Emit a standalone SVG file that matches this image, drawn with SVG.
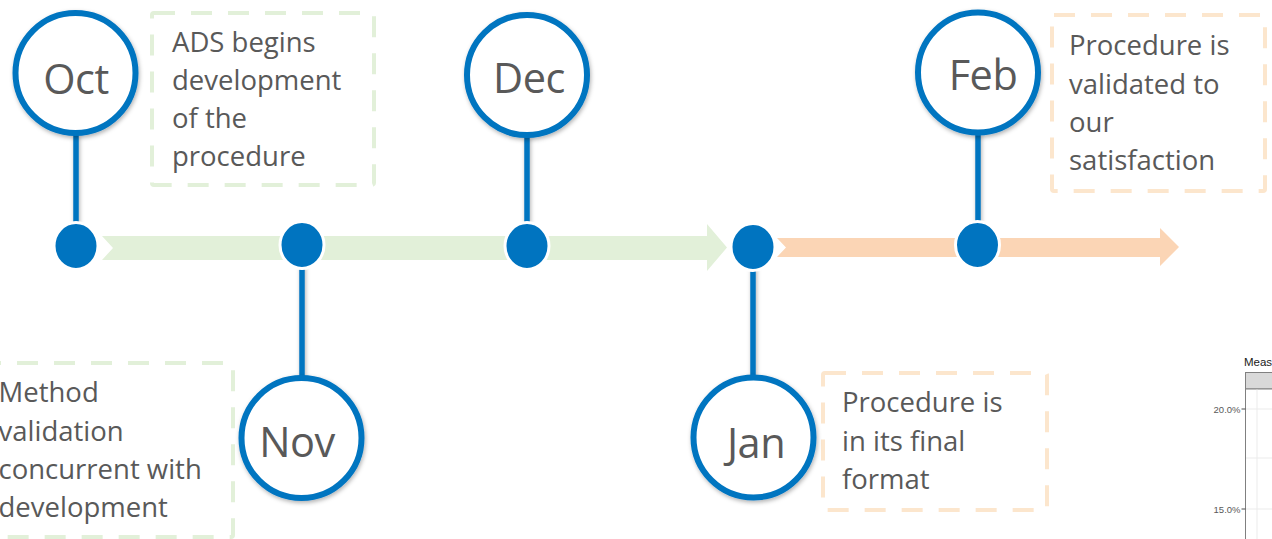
<svg xmlns="http://www.w3.org/2000/svg" width="1272" height="539" viewBox="0 0 1272 539">
  <defs>
    <filter id="sh" x="-20%" y="-20%" width="140%" height="140%">
      <feDropShadow dx="1" dy="2" stdDeviation="2" flood-color="#000" flood-opacity="0.3"/>
    </filter>
    <style>
      .ring { fill: #fff; stroke: #0074C0; stroke-width: 6; }
      .dot { fill: #0074C0; stroke: #fff; stroke-width: 3; }
      .stem { stroke: #0074C0; stroke-width: 5.5; fill: none; }
      .month { font-family: "Open Sans", "Noto Sans", sans-serif; font-size: 41.5px; fill: #595959; text-anchor: middle; letter-spacing: -0.5px; }
      .note { font-family: "Open Sans", "Noto Sans", sans-serif; font-size: 27.5px; fill: #595959; }
      .boxg { fill: none; stroke: #E2F0D9; stroke-width: 4; stroke-dasharray: 21 16; }
      .boxo { fill: none; stroke: #FCE6CD; stroke-width: 4; stroke-dasharray: 21 16; }
      .grid { stroke: #EBEBEB; stroke-width: 1; }
      .tick { font-family: "Liberation Sans", Arial, sans-serif; font-size: 9.5px; fill: #595959; text-anchor: end; }
    </style>
  </defs>
  <rect width="1272" height="539" fill="#fff"/>

  <!-- timeline arrows -->
  <g id="timeline">
    <path d="M102,236 L707,236 L707,224 L727,247.5 L707,271 L707,260 L102,260 L113,248 Z" fill="#E2F0D9"/>
    <path d="M777,238 L1160,238 L1160,228 L1179,247 L1160,266 L1160,257 L777,257 L786,247.5 Z" fill="#FBD5B5"/>
  </g>

  <!-- connectors -->
  <g id="connectors" filter="url(#sh)">
    <line class="stem" x1="76" y1="134" x2="76" y2="228"/>
    <line class="stem" x1="527" y1="136" x2="527" y2="228"/>
    <line class="stem" x1="978" y1="133" x2="978" y2="226"/>
    <line class="stem" x1="302" y1="264" x2="302" y2="376"/>
    <line class="stem" x1="753" y1="266" x2="753" y2="376"/>
  </g>

  <!-- note boxes -->
  <g id="note-oct">
    <rect class="boxg" x="152" y="13" width="222" height="172" rx="2"/>
    <text class="note"><tspan x="172" y="52">ADS begins</tspan><tspan x="172" y="90">development</tspan><tspan x="172" y="128">of the</tspan><tspan x="172" y="166">procedure</tspan></text>
  </g>
  <g id="note-nov">
    <rect class="boxg" x="-22" y="363" width="255" height="174" rx="2"/>
    <text class="note"><tspan x="-1.5" y="402">Method</tspan><tspan x="-1.5" y="441">validation</tspan><tspan x="-1.5" y="479">concurrent with</tspan><tspan x="-1.5" y="517">development</tspan></text>
  </g>
  <g id="note-jan">
    <rect class="boxo" x="823" y="373" width="224" height="137" rx="2"/>
    <text class="note"><tspan x="842" y="412">Procedure is</tspan><tspan x="842" y="450.5">in its final</tspan><tspan x="842" y="488.5">format</tspan></text>
  </g>
  <g id="note-feb">
    <rect class="boxo" x="1052" y="15" width="213" height="176" rx="2"/>
    <text class="note"><tspan x="1069" y="55">Procedure is</tspan><tspan x="1069" y="93.5">validated to</tspan><tspan x="1069" y="131.5">our</tspan><tspan x="1069" y="170">satisfaction</tspan></text>
  </g>

  <!-- month nodes -->
  <g id="node-oct">
    <circle class="ring" cx="75.5" cy="73" r="60" filter="url(#sh)"/>
    <text class="month" x="76" y="93.5">Oct</text>
    <ellipse class="dot" cx="76" cy="246" rx="22" ry="23.5"/>
  </g>
  <g id="node-nov">
    <circle class="ring" cx="301.5" cy="438" r="60" filter="url(#sh)"/>
    <text class="month" x="297" y="457">Nov</text>
    <ellipse class="dot" cx="302" cy="245" rx="22" ry="23.5"/>
  </g>
  <g id="node-dec">
    <circle class="ring" cx="527" cy="75" r="60" filter="url(#sh)"/>
    <text class="month" x="529" y="93">Dec</text>
    <ellipse class="dot" cx="527" cy="246" rx="22" ry="23.5"/>
  </g>
  <g id="node-jan">
    <circle class="ring" cx="753.5" cy="437.5" r="60" filter="url(#sh)"/>
    <text class="month" x="756" y="458">Jan</text>
    <ellipse class="dot" cx="753" cy="247" rx="22" ry="23.5"/>
  </g>
  <g id="node-feb">
    <circle class="ring" cx="978" cy="72.5" r="60" filter="url(#sh)"/>
    <text class="month" x="983" y="90">Feb</text>
    <ellipse class="dot" cx="977.5" cy="245" rx="22" ry="23.5"/>
  </g>

  <!-- chart fragment at bottom right -->
  <g id="chart-fragment">
    <text x="1244" y="366" font-family="Liberation Sans, Arial, sans-serif" font-size="11.5" fill="#1A1A1A">Meas</text>
    <rect x="1245.5" y="372.5" width="30" height="16.5" fill="#D9D9D9" stroke="#808080" stroke-width="1"/>
    <rect x="1245.5" y="389" width="30" height="160" fill="#fff" stroke="#808080" stroke-width="1"/>
    <line class="grid" x1="1246" y1="458" x2="1272" y2="458"/>
    <line class="grid" x1="1246" y1="409" x2="1272" y2="409"/>
    <line class="grid" x1="1246" y1="509" x2="1272" y2="509"/>
    <line class="grid" x1="1257" y1="389.5" x2="1257" y2="539"/>
    <line x1="1241.5" y1="409" x2="1245.5" y2="409" stroke="#4D4D4D" stroke-width="1"/>
    <line x1="1241.5" y1="509" x2="1245.5" y2="509" stroke="#4D4D4D" stroke-width="1"/>
    <text class="tick" x="1240.5" y="412.5">20.0%</text>
    <text class="tick" x="1240.5" y="512.5">15.0%</text>
  </g>
</svg>
